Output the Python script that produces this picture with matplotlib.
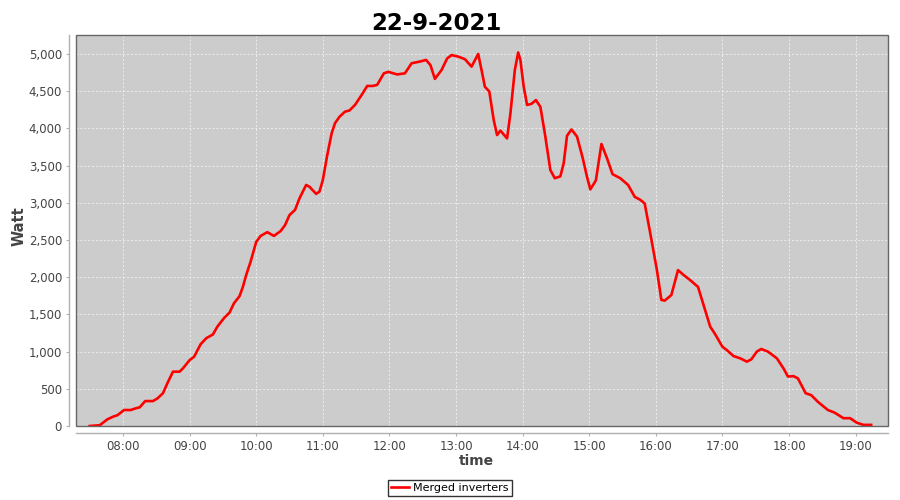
import matplotlib
matplotlib.use("Agg")
import matplotlib.pyplot as plt
import matplotlib.dates as mdates
from matplotlib.patches import Rectangle
from matplotlib.ticker import FuncFormatter, MultipleLocator
from datetime import datetime

title = "22-9-2021"
series_name = "Merged inverters"
x_label = "time"
y_label = "Watt"

times = ["07:30", "07:39", "07:46", "07:51", "07:55", "08:01", "08:07", "08:12", "08:15", "08:20",
         "08:27", "08:31", "08:36", "08:40", "08:45", "08:51", "08:54", "09:00", "09:04", "09:10",
         "09:15", "09:21", "09:25", "09:31", "09:36", "09:40", "09:45", "09:48", "09:51", "09:55",
         "10:00", "10:04", "10:10", "10:16", "10:22", "10:26", "10:30", "10:35", "10:39", "10:45",
         "10:48", "10:54", "10:57", "11:00", "11:04", "11:08", "11:11", "11:15", "11:20", "11:24",
         "11:29", "11:35", "11:40", "11:45", "11:49", "11:55", "11:59", "12:07", "12:14", "12:20",
         "12:28", "12:33", "12:37", "12:41", "12:47", "12:52", "12:56", "13:02", "13:08", "13:14",
         "13:20", "13:23", "13:26", "13:30", "13:34", "13:37", "13:40", "13:46", "13:49", "13:53",
         "13:56", "13:58", "14:01", "14:04", "14:08", "14:12", "14:16", "14:20", "14:25", "14:29",
         "14:34", "14:37", "14:40", "14:44", "14:49", "14:54", "14:58", "15:01", "15:06", "15:11",
         "15:16", "15:21", "15:28", "15:35", "15:41", "15:46", "15:50", "15:55", "16:01", "16:05",
         "16:08", "16:14", "16:20", "16:25", "16:31", "16:38", "16:43", "16:49", "16:53", "17:00",
         "17:04", "17:10", "17:16", "17:22", "17:26", "17:31", "17:35", "17:41", "17:49", "17:55",
         "17:59", "18:04", "18:08", "18:15", "18:20", "18:26", "18:35", "18:41", "18:49", "18:55",
         "19:01", "19:07", "19:14"]
watts = [0, 10, 90, 125, 145, 215, 215, 240, 250, 335,
         335, 370, 440, 575, 730, 730, 775, 885, 930, 1100,
         1180, 1230, 1335, 1450, 1525, 1650, 1745, 1870, 2030, 2210,
         2475, 2555, 2605, 2555, 2620, 2700, 2835, 2905, 3060, 3240,
         3215, 3120, 3150, 3305, 3640, 3935, 4070, 4155, 4225, 4240,
         4315, 4450, 4570, 4570, 4585, 4740, 4760, 4725, 4740, 4875,
         4900, 4920, 4850, 4665, 4785, 4940, 4985, 4965, 4930, 4830,
         5000, 4785, 4560, 4495, 4110, 3910, 3970, 3865, 4200, 4785,
         5020, 4920, 4560, 4315, 4330, 4380, 4290, 3935, 3440, 3330,
         3355, 3530, 3900, 3985, 3890, 3610, 3350, 3180, 3300, 3790,
         3600, 3385, 3330, 3240, 3080, 3040, 2990, 2590, 2095, 1695,
         1685, 1760, 2095, 2030, 1960, 1870, 1625, 1335, 1245, 1065,
         1020, 940, 910, 865, 895, 1000, 1035, 1000, 910, 775,
         665, 670, 640, 440, 415, 325, 215, 180, 105, 105,
         45, 15, 15]

day = "2021-09-22"
x = [datetime.strptime(day + " " + t, "%Y-%m-%d %H:%M") for t in times]

fig = plt.figure(figsize=(9, 5), dpi=100)
ax = fig.add_axes([76/900, 1-426/500, (888-76)/900, (426-35)/500])
ax.set_facecolor("#cccccc")

ax.plot(x, watts, color="#ff0000", lw=1.9, solid_joinstyle="round", zorder=3, label=series_name)

ax.set_xlim(datetime(2021, 9, 22, 7, 17, 40), datetime(2021, 9, 22, 19, 29, 10))
ax.set_ylim(0, 5255)

ax.xaxis.set_major_locator(mdates.HourLocator())
ax.xaxis.set_major_formatter(mdates.DateFormatter("%H:%M"))
ax.yaxis.set_major_locator(MultipleLocator(500))
ax.yaxis.set_major_formatter(FuncFormatter(lambda v, p: f"{int(v):,}"))

ax.grid(True, color="#eeeeee", lw=0.7, linestyle=(0, (2, 2)), zorder=1)

for s in ["top", "right"]:
    ax.spines[s].set_visible(False)
for s in ["left", "bottom"]:
    ax.spines[s].set_position(("outward", 5))
    ax.spines[s].set_color("#b0b0b0")
    ax.spines[s].set_linewidth(1.0)
ax.add_patch(Rectangle((0, 0), 1, 1, transform=ax.transAxes, fill=False,
                       edgecolor="#666666", lw=1.0, clip_on=False, zorder=4))

ax.tick_params(axis="both", length=2, width=0.8, color="#b0b0b0",
               labelsize=8.5, labelcolor="#444444", pad=3)

ax.set_xlabel(x_label, fontsize=10, fontweight="bold", color="#444444")
ax.set_ylabel(y_label, fontsize=10.5, fontweight="bold", color="#444444")
ax.xaxis.set_label_coords((476-76)/812, (426-454)/391)
ax.yaxis.set_label_coords((27-76)/812, (426-226)/391)

fig.suptitle(title, fontsize=16.5, fontweight="bold", y=0.975, x=436/900)

leg = fig.legend(loc="center", bbox_to_anchor=(450/900, 1-488/500), frameon=True,
                 fontsize=8, fancybox=False, edgecolor="black", borderpad=0.25,
                 handlelength=1.6, handletextpad=0.4, borderaxespad=0)
leg.get_frame().set_linewidth(1.0)

fig.savefig("out.png", dpi=100)
